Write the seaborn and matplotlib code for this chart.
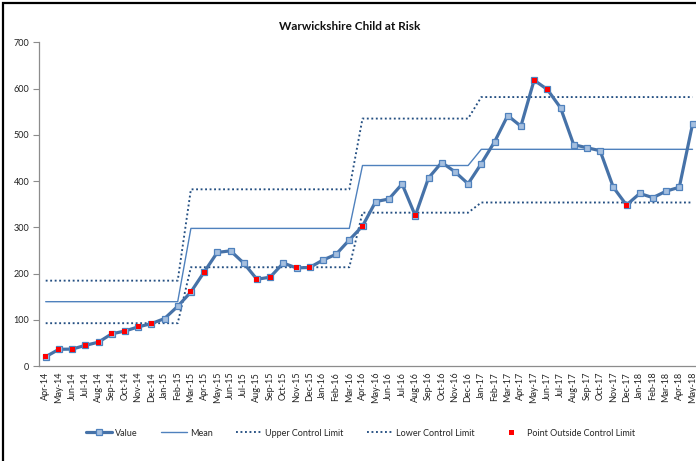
import numpy as np
import pandas as pd
import matplotlib
matplotlib.use("Agg")
import matplotlib.pyplot as plt
import seaborn as sns
from matplotlib.lines import Line2D
from matplotlib.patches import Rectangle

months = ["Apr-14", "May-14", "Jun-14", "Jul-14", "Aug-14", "Sep-14", "Oct-14", "Nov-14", "Dec-14",
          "Jan-15", "Feb-15", "Mar-15", "Apr-15", "May-15", "Jun-15", "Jul-15", "Aug-15", "Sep-15",
          "Oct-15", "Nov-15", "Dec-15", "Jan-16", "Feb-16", "Mar-16", "Apr-16", "May-16", "Jun-16",
          "Jul-16", "Aug-16", "Sep-16", "Oct-16", "Nov-16", "Dec-16", "Jan-17", "Feb-17", "Mar-17",
          "Apr-17", "May-17", "Jun-17", "Jul-17", "Aug-17", "Sep-17", "Oct-17", "Nov-17", "Dec-17",
          "Jan-18", "Feb-18", "Mar-18", "Apr-18", "May-18"]

values = [20.5, 36.5, 37, 45, 52, 70, 76, 85, 92, 103, 129.5, 160.5,
          203.5, 246, 249.5, 223, 188, 192.5, 223, 212.5, 213.5, 229.5, 242, 273,
          303, 356, 361.5, 394, 325.5, 407, 440.5, 420.5, 394.5, 438, 485, 542,
          519, 618.5, 598.5, 559, 479, 472.5, 466, 387, 348.5, 373.5, 364.5, 378.5,
          387, 523]

mean = [139.5, 139.5, 139.5, 139.5, 139.5, 139.5, 139.5, 139.5, 139.5, 139.5, 139.5,
        298, 298, 298, 298, 298, 298, 298, 298, 298, 298, 298, 298, 298,
        434, 434, 434, 434, 434, 434, 434, 434, 434,
        469, 469, 469, 469, 469, 469, 469, 469, 469, 469, 469, 469, 469, 469, 469, 469, 469]

ucl = [185, 185, 185, 185, 185, 185, 185, 185, 185, 185, 185,
       382.5, 382.5, 382.5, 382.5, 382.5, 382.5, 382.5, 382.5, 382.5, 382.5, 382.5, 382.5, 382.5,
       535.5, 535.5, 535.5, 535.5, 535.5, 535.5, 535.5, 535.5, 535.5,
       582, 582, 582, 582, 582, 582, 582, 582, 582, 582, 582, 582, 582, 582, 582, 582, 582]

lcl = [93, 93, 93, 93, 93, 93, 93, 93, 93, 93, 93,
       214, 214, 214, 214, 214, 214, 214, 214, 214, 214, 214, 214, 214,
       332, 332, 332, 332, 332, 332, 332, 332, 332,
       354, 354, 354, 354, 354, 354, 354, 354, 354, 354, 354, 354, 354, 354, 354, 354, 354]

yticks = [0, 100, 200, 300, 400, 500, 600, 700]

df = pd.DataFrame({"idx": np.arange(len(months)), "Month": months, "Value": values,
                   "Mean": mean, "UCL": ucl, "LCL": lcl})
df["Outside"] = (df["Value"] > df["UCL"]) | (df["Value"] < df["LCL"])

sns.set_style("white")
plt.rcParams["font.family"] = ["Lato", "DejaVu Sans"]

W, H = 696, 461
fig = plt.figure(figsize=(W / 100, H / 100), dpi=100)
ax = fig.add_axes([39.1 / W, (H - 366.2) / H, 660 / W, 323.7 / H])

# chart border
fig.patches.append(Rectangle((3 / W, -0.1), 1.1, (H - 3) / H + 0.1, transform=fig.transFigure,
                             fill=False, edgecolor="black", linewidth=1.6, zorder=10))

dot = (0, (1, 1.4))
ctl_color = "#244F82"
ctl_lw = 1.35
sns.lineplot(data=df, x="idx", y="UCL", ax=ax, color=ctl_color, lw=ctl_lw, linestyle=dot)
sns.lineplot(data=df, x="idx", y="LCL", ax=ax, color=ctl_color, lw=ctl_lw, linestyle=dot)
sns.lineplot(data=df, x="idx", y="Mean", ax=ax, color="#4F81BD", lw=1.0)
sns.lineplot(data=df, x="idx", y="Value", ax=ax, color="#4672A8", lw=2.3, marker="s",
             markersize=5, markerfacecolor="#A5BFDF", markeredgecolor="#4F81BD", markeredgewidth=0.9)
sns.scatterplot(data=df[df["Outside"]], x="idx", y="Value", ax=ax, marker="s", s=13,
                color="#FF0000", edgecolor="none", zorder=6)

ax.set_xlim(-0.5, len(months) - 0.5)
ax.set_ylim(0, 700)
ax.set_yticks(yticks)
ax.set_yticklabels([str(v) for v in yticks], fontsize=6.5, color="#222222")
ax.set_xticks(df["idx"])
ax.set_xticklabels(months, rotation=90, fontsize=6.5, color="#222222")
ax.tick_params(axis="x", length=0, pad=4)
ax.tick_params(axis="y", length=4, width=0.8, color="#8C8C8C", direction="out", pad=3, left=True)
ax.set_xlabel("")
ax.set_ylabel("")
for s in ["top", "right"]:
    ax.spines[s].set_visible(False)
for s in ["left", "bottom"]:
    ax.spines[s].set_color("#8C8C8C")
    ax.spines[s].set_linewidth(0.9)

fig.text(350 / W, 1 - 27 / H, "Warwickshire Child at Risk", ha="center", va="center",
         fontsize=8.5, fontweight="bold", color="#111111")

handles = [
    Line2D([], [], color="#4672A8", lw=2.3, marker="s", markersize=5,
           markerfacecolor="#A5BFDF", markeredgecolor="#4F81BD", markeredgewidth=0.9),
    Line2D([], [], color="#4F81BD", lw=1.0),
    Line2D([], [], color=ctl_color, lw=ctl_lw, linestyle=dot),
    Line2D([], [], color=ctl_color, lw=ctl_lw, linestyle=dot),
    Line2D([], [], color="#FF0000", lw=0, marker="s", markersize=3.6, markeredgewidth=0),
]
labels = ["Value", "Mean", "Upper Control Limit", "Lower Control Limit", "Point Outside Control Limit"]
fig.legend(handles, labels, loc="center left", bbox_to_anchor=(86 / W, 1 - 433 / H), ncol=5,
           frameon=False, fontsize=6.5, handlelength=2.9, handletextpad=0.35,
           columnspacing=2.55, borderpad=0, borderaxespad=0, numpoints=1)

fig.savefig("out.png", dpi=100)
